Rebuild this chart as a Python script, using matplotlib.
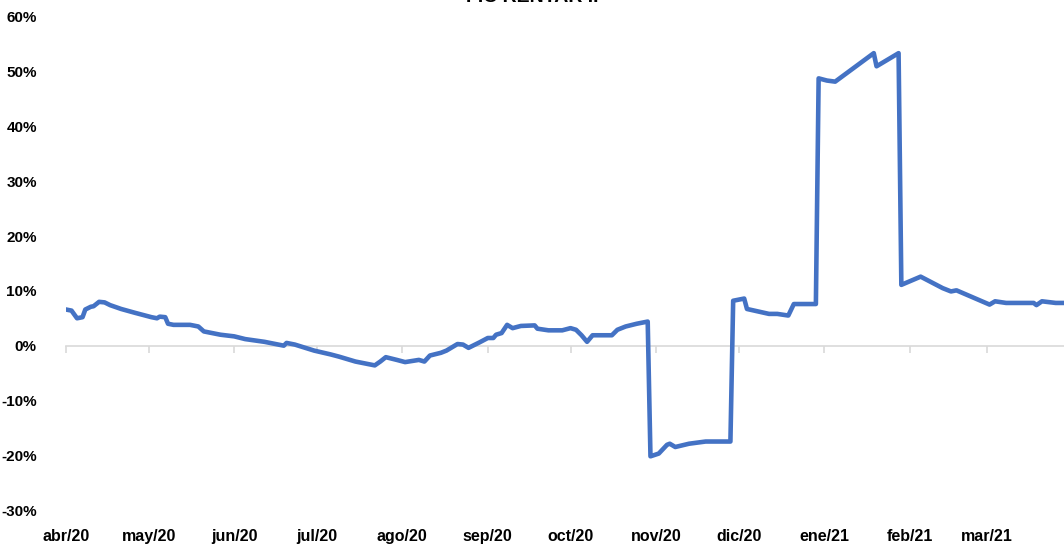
import pandas as pd
import matplotlib.pyplot as plt
import matplotlib.ticker as mticker

dates = ['2020-04-01', '2020-04-03', '2020-04-05', '2020-04-07', '2020-04-08',
         '2020-04-10', '2020-04-11', '2020-04-13', '2020-04-15', '2020-04-17',
         '2020-04-21', '2020-04-26', '2020-05-02', '2020-05-04', '2020-05-05',
         '2020-05-07', '2020-05-08', '2020-05-10', '2020-05-16', '2020-05-19',
         '2020-05-21', '2020-05-27', '2020-06-01', '2020-06-05', '2020-06-12',
         '2020-06-19', '2020-06-20', '2020-06-23', '2020-06-30', '2020-07-06',
         '2020-07-09', '2020-07-15', '2020-07-19', '2020-07-22', '2020-07-24',
         '2020-07-26', '2020-07-30', '2020-08-02', '2020-08-07', '2020-08-09',
         '2020-08-11', '2020-08-15', '2020-08-17', '2020-08-21', '2020-08-23',
         '2020-08-25', '2020-08-29', '2020-09-01', '2020-09-03', '2020-09-04',
         '2020-09-06', '2020-09-08', '2020-09-10', '2020-09-13', '2020-09-18',
         '2020-09-19', '2020-09-23', '2020-09-28', '2020-10-01', '2020-10-03',
         '2020-10-05', '2020-10-07', '2020-10-09', '2020-10-16', '2020-10-18',
         '2020-10-21', '2020-10-25', '2020-10-29', '2020-10-30', '2020-11-02',
         '2020-11-05', '2020-11-06', '2020-11-08', '2020-11-13', '2020-11-19',
         '2020-11-28', '2020-11-29', '2020-12-03', '2020-12-04', '2020-12-12',
         '2020-12-15', '2020-12-19', '2020-12-21', '2020-12-29', '2020-12-30',
         '2021-01-02', '2021-01-05', '2021-01-19', '2021-01-20', '2021-01-28',
         '2021-01-29', '2021-02-05', '2021-02-13', '2021-02-16', '2021-02-18',
         '2021-03-02', '2021-03-04', '2021-03-08', '2021-03-18', '2021-03-19',
         '2021-03-21', '2021-03-26', '2021-03-30']

rentab = [6.6, 6.4, 5.0, 5.2, 6.6,
          7.1, 7.2, 8.0, 7.9, 7.4,
          6.7, 6.0, 5.2, 5.0, 5.3,
          5.2, 4.0, 3.8, 3.8, 3.5,
          2.6, 2.0, 1.7, 1.2, 0.7,
          0.0, 0.5, 0.2, -0.9, -1.6,
          -2.0, -2.9, -3.3, -3.6, -2.9,
          -2.1, -2.6, -3.0, -2.6, -2.9,
          -1.8, -1.3, -0.9, 0.3, 0.2,
          -0.4, 0.6, 1.4, 1.4, 2.0,
          2.3, 3.8, 3.2, 3.6, 3.7,
          3.1, 2.8, 2.8, 3.2, 2.9,
          1.9, 0.7, 1.9, 1.9, 2.9,
          3.5, 4.0, 4.4, -20.2, -19.7,
          -18.1, -17.9, -18.5, -17.9, -17.5,
          -17.5, 8.2, 8.6, 6.7, 5.8,
          5.8, 5.5, 7.6, 7.6, 48.8,
          48.4, 48.2, 53.4, 51.0, 53.4,
          11.1, 12.6, 10.5, 9.9, 10.1,
          7.5, 8.1, 7.8, 7.8, 7.4,
          8.1, 7.8, 7.8]

month_ticks = pd.date_range('2020-04-01', '2021-03-01', freq='MS')
month_names = ['abr', 'may', 'jun', 'jul', 'ago', 'sep', 'oct', 'nov',
               'dic', 'ene', 'feb', 'mar']
tick_labels = [f"{m}/{d.strftime('%y')}" for m, d in zip(month_names, month_ticks)]

plt.rcParams['font.family'] = ['Liberation Sans', 'DejaVu Sans']

fig = plt.figure(figsize=(10.64, 5.51), dpi=100)
ax = fig.add_axes([66 / 1064, 41 / 551, 1 - 66 / 1064, 493 / 551])

x = pd.to_datetime(dates)
ax.plot(x, rentab, color='#4472C4', lw=3.3, solid_joinstyle='round', zorder=3)

ax.set_xlim(pd.Timestamp('2020-04-01'), pd.Timestamp('2021-03-29'))
ax.set_ylim(-30, 60)
ax.yaxis.set_major_locator(mticker.MultipleLocator(10))
ax.yaxis.set_major_formatter(mticker.FuncFormatter(lambda v, p: f"{v:.0f}%"))

for s in ['top', 'right', 'left']:
    ax.spines[s].set_visible(False)
ax.spines['bottom'].set_position(('data', 0))
ax.spines['bottom'].set_color('#d9d9d9')
ax.spines['bottom'].set_linewidth(1.2)

ax.set_xticks(month_ticks)
ax.tick_params(axis='x', length=5, width=1.2, color='#d9d9d9', labelbottom=False)
ax.tick_params(axis='y', length=0, pad=21, labelsize=11)
for lbl in ax.get_yticklabels():
    lbl.set_fontweight('bold')

sec = ax.secondary_xaxis('bottom')
sec.set_xticks(month_ticks)
sec.set_xticklabels(tick_labels, fontsize=11.5, fontweight='bold')
sec.tick_params(length=0, pad=14)
sec.spines['bottom'].set_visible(False)

fig.text(0.5, 0.989, 'FIC RENTAR II', ha='center', va='bottom',
         fontsize=14, fontweight='bold')

fig.savefig('out.png', dpi=100)
